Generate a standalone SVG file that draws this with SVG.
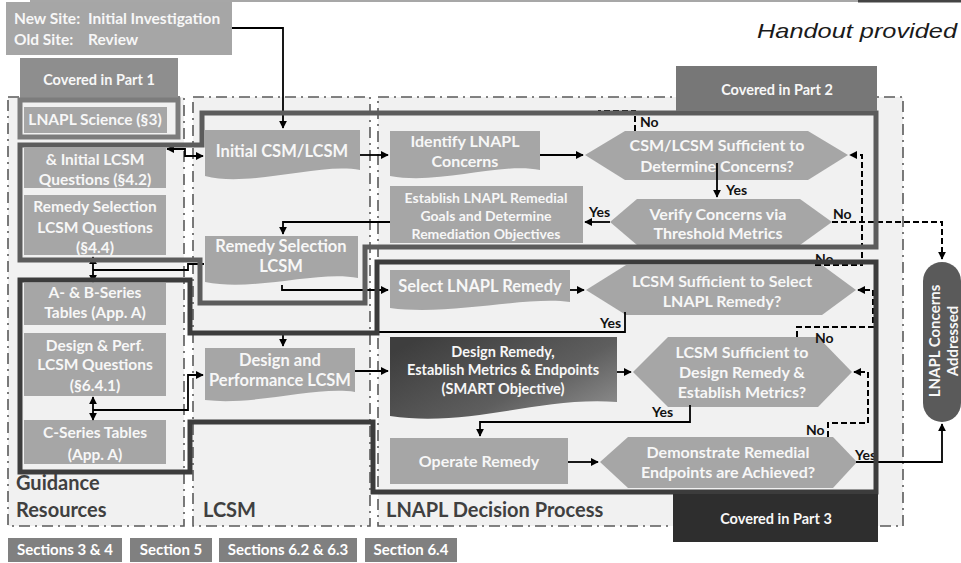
<svg xmlns="http://www.w3.org/2000/svg" width="961" height="563" viewBox="0 0 961 563">
<defs>
<style>
text{font-family:Lato,"Liberation Sans",sans-serif;font-weight:bold}
.col{fill:#f1f1f1;stroke:#5a5a5a;stroke-width:1.6;stroke-dasharray:11 5 2 5}
.nd{fill:#a6a6a6}
.nt{fill:#f7f7f7;text-anchor:middle}
.gt{fill:#f7f7f7;font-size:15.5px;text-anchor:middle}
.lbl{fill:#111;font-size:14px}
.colt{fill:#404040;font-size:20px}
.sec{fill:#808080}
.sect{fill:#fff;font-size:15px;text-anchor:middle}
.ln{fill:none;stroke:#000;stroke-width:1.8}
.dl{fill:none;stroke:#000;stroke-width:2;stroke-dasharray:6 3}
.b2{fill:none;stroke:#5c5c5c;stroke-width:5;stroke-linejoin:miter}
.b3{fill:none;stroke:#3c3c3c;stroke-width:5;stroke-linejoin:miter}
</style>
<marker id="ah" viewBox="0 0 10 10" refX="9" refY="5" markerUnits="userSpaceOnUse" markerWidth="8" markerHeight="8" orient="auto-start-reverse"><path d="M0,0 L10,5 L0,10 z" fill="#000" stroke="none"/></marker>
<linearGradient id="dg" x1="0" y1="0.2" x2="1" y2="0.9"><stop offset="0" stop-color="#3e3e3e"/><stop offset="0.6" stop-color="#5e5e5e"/><stop offset="1" stop-color="#8e8e8e"/></linearGradient>
</defs>
<rect width="961" height="563" fill="#fff"/>
<line x1="30" y1="1" x2="858" y2="1" stroke="#8a8a8a" stroke-width="1.5"/>
<line x1="858" y1="1" x2="961" y2="1" stroke="#444" stroke-width="3"/>

<g id="columns">
<rect class="col" x="8" y="97" width="176" height="429"/>
<rect class="col" x="193" y="97" width="177" height="429"/>
<rect class="col" x="378" y="97" width="525" height="429"/>
<text class="colt" x="16" y="490">Guidance</text>
<text class="colt" x="16" y="517">Resources</text>
<text class="colt" x="203" y="517">LCSM</text>
<text class="colt" x="386" y="517">LNAPL Decision Process</text>
</g>

<g id="handout"><text x="757" y="38" textLength="200" lengthAdjust="spacingAndGlyphs" style="font-family:'Liberation Sans',Arial,sans-serif;font-weight:normal;font-style:italic;font-size:21px;fill:#1a1a1a">Handout provided</text></g>

<g id="start">
<rect x="6" y="2" width="226" height="53" fill="#a6a6a6"/>
<text x="14" y="24" fill="#f7f7f7" font-size="15.5">New Site:</text>
<text x="88" y="24" fill="#f7f7f7" font-size="15.5">Initial Investigation</text>
<text x="14" y="45" fill="#f7f7f7" font-size="15.5">Old Site:</text>
<text x="88" y="45" fill="#f7f7f7" font-size="15.5">Review</text>
</g>

<g id="part1">
<rect x="20" y="58" width="158" height="41" fill="#8e8e8e"/>
<text class="nt" x="99" y="85" font-size="14.5">Covered in Part 1</text>
<rect x="20" y="100" width="158" height="37" fill="none" stroke="#7c7c7c" stroke-width="5"/>
</g>

<g id="g-science"><rect class="nd" x="24" y="107" width="143" height="26"/><text class="gt" x="95" y="125">LNAPL Science (§3)</text></g>
<g id="g-initial"><rect class="nd" x="24" y="148" width="142" height="40"/><text class="gt" x="95" y="165">&amp; Initial LCSM</text><text class="gt" x="95" y="185">Questions (§4.2)</text></g>
<g id="g-remsel"><rect class="nd" x="24" y="195" width="142" height="60"/><text class="gt" x="95" y="212">Remedy Selection</text><text class="gt" x="95" y="233">LCSM Questions</text><text class="gt" x="95" y="253">(§4.4)</text></g>
<g id="g-ab"><rect class="nd" x="24" y="283" width="142" height="42"/><text class="gt" x="95" y="298">A- &amp; B-Series</text><text class="gt" x="95" y="318">Tables (App. A)</text></g>
<g id="g-design"><rect class="nd" x="24" y="333" width="142" height="63"/><text class="gt" x="95" y="351">Design &amp; Perf.</text><text class="gt" x="95" y="370">LCSM Questions</text><text class="gt" x="95" y="391">(§6.4.1)</text></g>
<g id="g-c"><rect class="nd" x="24" y="420" width="142" height="44"/><text class="gt" x="95" y="438">C-Series Tables</text><text class="gt" x="95" y="460">(App. A)</text></g>

<g id="l-initial"><path class="nd" d="M205,130 H360 V170 C320,162 250,188 205,176 Z"/><text class="nt" x="282" y="157" font-size="16.5">Initial CSM/LCSM</text></g>
<g id="l-remsel"><path class="nd" d="M205,236 H358 V278 C318,270 255,292 205,282 Z"/><text class="nt" x="281" y="252" font-size="16.5">Remedy Selection</text><text class="nt" x="281" y="272" font-size="16.5">LCSM</text></g>
<g id="l-design"><path class="nd" d="M205,348 H355 V392 C315,386 255,406 205,400 Z"/><text class="nt" x="280" y="366" font-size="16.5">Design and</text><text class="nt" x="280" y="386" font-size="16.5">Performance LCSM</text></g>

<g id="d-identify"><path class="nd" d="M390,131 H540 V170 C500,162 440,185 390,176 Z"/><text class="nt" x="465" y="147" font-size="16">Identify LNAPL</text><text class="nt" x="465" y="167" font-size="16">Concerns</text></g>
<g id="d-establish"><rect class="nd" x="390" y="186" width="193" height="57"/><text class="nt" x="486" y="203" font-size="14">Establish LNAPL Remedial</text><text class="nt" x="486" y="221" font-size="14">Goals and Determine</text><text class="nt" x="486" y="239" font-size="14">Remediation Objectives</text></g>
<g id="d-select"><path class="nd" d="M390,270 H570 V302 C525,296 450,316 390,308 Z"/><text class="nt" x="480" y="292" font-size="16.5">Select LNAPL Remedy</text></g>
<g id="d-designrem"><path d="M390,337 H617 V402 C540,396 470,428 390,416 Z" fill="url(#dg)"/><text class="nt" x="503" y="357" font-size="14.5">Design Remedy,</text><text class="nt" x="503" y="375" font-size="14.5">Establish Metrics &amp; Endpoints</text><text class="nt" x="503" y="394" font-size="14.5">(SMART Objective)</text></g>
<g id="d-operate"><rect class="nd" x="390" y="438" width="178" height="46"/><text class="nt" x="479" y="467" font-size="16">Operate Remedy</text></g>

<g id="q1"><path class="nd" d="M585,155 L625,131 H808 L848,155 L808,180 H625 Z"/><text class="nt" x="717" y="151" font-size="16">CSM/LCSM Sufficient to</text><text class="nt" x="717" y="172" font-size="16">Determine Concerns?</text></g>
<g id="q2"><path class="nd" d="M610,222 L637,199 H800 L832,222 L800,245 H637 Z"/><text class="nt" x="718" y="220" font-size="16">Verify Concerns via</text><text class="nt" x="718" y="239" font-size="16">Threshold Metrics</text></g>
<g id="q3"><path class="nd" d="M586,290 L626,265 H822 L856,290 L822,315 H626 Z"/><text class="nt" x="722" y="287" font-size="16">LCSM Sufficient to Select</text><text class="nt" x="722" y="307" font-size="16">LNAPL Remedy?</text></g>
<g id="q4"><path class="nd" d="M633,372 L668,337 H818 L852,372 L818,407 H668 Z"/><text class="nt" x="742" y="358" font-size="16">LCSM Sufficient to</text><text class="nt" x="742" y="378" font-size="16">Design Remedy &amp;</text><text class="nt" x="742" y="398" font-size="16">Establish Metrics?</text></g>
<g id="q5"><path class="nd" d="M600,462 L628,437 H833 L857,462 L833,488 H628 Z"/><text class="nt" x="728" y="458" font-size="16">Demonstrate Remedial</text><text class="nt" x="728" y="478" font-size="16">Endpoints are Achieved?</text></g>

<g id="end"><rect x="923" y="262" width="38" height="160" rx="19" fill="#5a5a5a"/><g transform="translate(940,341) rotate(-90)"><text x="0" y="0" fill="#f7f7f7" font-size="15" text-anchor="middle">LNAPL Concerns</text><text x="0" y="18" fill="#f7f7f7" font-size="15" text-anchor="middle">Addressed</text></g></g>

<g id="connectors">
<path class="ln" d="M232,28 H283 V128" marker-end="url(#ah)"/>
<path class="ln" d="M360,155 H388" marker-end="url(#ah)"/>
<path class="ln" d="M540,155 H583" marker-end="url(#ah)"/>
<path class="ln" d="M717,163 V197" marker-end="url(#ah)"/>
<path class="ln" d="M610,222 H585" marker-end="url(#ah)"/>
<path class="ln" d="M390,222 H283 V234" marker-end="url(#ah)"/>
<path class="ln" d="M282,285 V290 H388" marker-end="url(#ah)"/>
<path class="ln" d="M570,290 H584" marker-end="url(#ah)"/>
<path class="ln" d="M625,312 V332 H283 V346" marker-end="url(#ah)"/>
<path class="ln" d="M355,371 H388" marker-end="url(#ah)"/>
<path class="ln" d="M617,372 H631" marker-end="url(#ah)"/>
<path class="ln" d="M690,405 V422 H480 V436" marker-end="url(#ah)"/>
<path class="ln" d="M568,462 H598" marker-end="url(#ah)"/>
<path class="ln" d="M856,462 H942 V424" marker-end="url(#ah)"/>
<path class="ln" d="M167,149 H185 V156 H203" marker-start="url(#ah)" marker-end="url(#ah)"/>
<path class="ln" d="M93,257 V282" marker-start="url(#ah)" marker-end="url(#ah)"/>
<path class="ln" d="M93,270 H188 V264 H204"/>
<path class="ln" d="M93,397 V420" marker-start="url(#ah)" marker-end="url(#ah)"/>
<path class="ln" d="M93,410 H188 V375 H203" marker-end="url(#ah)"/>
<path class="dl" d="M635,131 V111 H598"/>
<path class="dl" d="M832,222 H942 V259" marker-end="url(#ah)"/>
<path class="dl" d="M815,265 H862 V155 H850" marker-end="url(#ah)"/>
<path class="dl" d="M797,337 V327 H873 V290 H858" marker-end="url(#ah)"/>
<path class="dl" d="M828,437 V423 H868 V372 H854" marker-end="url(#ah)"/>
</g>

<g id="labels">
<text class="lbl" x="640" y="127">No</text>
<text class="lbl" x="726" y="195">Yes</text>
<text class="lbl" x="589" y="217">Yes</text>
<text class="lbl" x="833" y="219">No</text>
<text class="lbl" x="815" y="264">No</text>
<text class="lbl" x="600" y="328">Yes</text>
<text class="lbl" x="815" y="343">No</text>
<text class="lbl" x="652" y="417">Yes</text>
<text class="lbl" x="806" y="435">No</text>
<text class="lbl" x="855" y="460">Yes</text>
</g>

<g id="part2">
<path class="b2" d="M20,145 H202 V113 H876 V247 H365 V303 H200 V260 H20 Z"/>
<rect x="676" y="66" width="201" height="45" fill="#777"/>
<text class="nt" x="777" y="95" font-size="14.5">Covered in Part 2</text>
</g>
<g id="part3">
<path class="b3" d="M20,280 H190 V333 H377 V262 H876 V492 H373 V422 H190 V472 H20 Z"/>
<rect x="673" y="494" width="205" height="48" fill="#2e2e2e"/>
<text class="nt" x="776" y="524" font-size="14.5">Covered in Part 3</text>
</g>

<g id="sections">
<rect class="sec" x="8" y="538" width="114" height="24"/><text class="sect" x="65" y="555">Sections 3 &amp; 4</text>
<rect class="sec" x="130" y="538" width="82" height="24"/><text class="sect" x="171" y="555">Section 5</text>
<rect class="sec" x="219" y="538" width="138" height="24"/><text class="sect" x="288" y="555">Sections 6.2 &amp; 6.3</text>
<rect class="sec" x="365" y="538" width="92" height="24"/><text class="sect" x="411" y="555">Section 6.4</text>
</g>
</svg>
